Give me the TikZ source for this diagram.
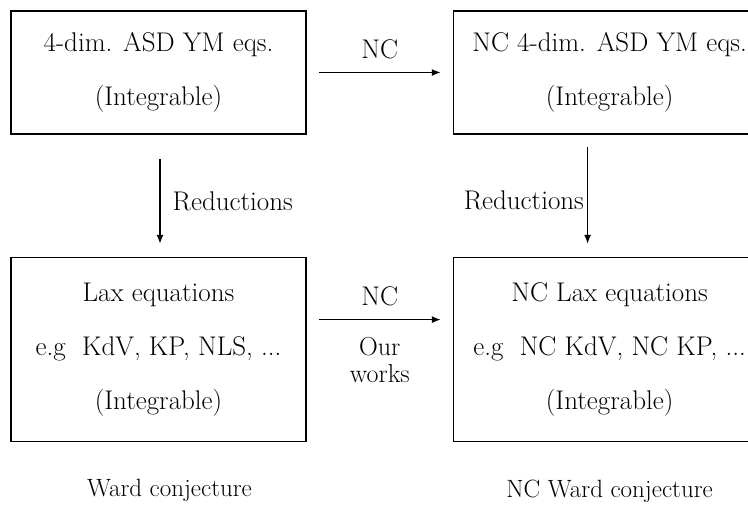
\documentclass[tikz,border=0pt]{standalone}
\usepackage{tikz}
\usetikzlibrary{arrows.meta, positioning}

\begin{document}
\begin{tikzpicture}[x=1pt, y=-1pt,
        eqbox/.style={rectangle, draw, line width=1.6pt, minimum width=295pt, minimum height=123pt, align=center, font=\fontsize{27}{54}\selectfont},
        ncbox/.style={eqbox, minimum width=312pt},
        label/.style={inner sep=0pt, font=\fontsize{27}{31}\selectfont},
        line/.style={-{Latex[length=9pt, width=7pt]}, line width=1.4pt}
    ]
        \useasboundingbox (0,0) rectangle (748,505);

        % Commutative side
        \node[eqbox] (asd) at (158.5,72.5) {4-dim. ASD YM eqs.\\(Integrable)};
        \node[eqbox, minimum height=184pt, below=122pt of asd] (lax) {Lax equations\\e.g\ \ KdV, KP, NLS, ...\\(Integrable)};
        \node[label, font=\fontsize{25}{29}\selectfont, below=37pt of lax, xshift=11pt] (ward) {Ward conjecture};

        % Noncommutative side
        \node[ncbox, right=146pt of asd] (ncasd) {NC 4-dim. ASD YM eqs.\\(Integrable)};
        \node[ncbox, minimum height=184pt, below=122pt of ncasd] (nclax) {NC Lax equations\\e.g\ \ NC KdV, NC KP, ...\\(Integrable)};
        \node[label, font=\fontsize{25}{29}\selectfont, below=37pt of nclax] (ncward) {NC Ward conjecture};

        % Arrows
        \draw[line] ([xshift=12pt]asd.east) -- ([xshift=-12pt]ncasd.west)
            node[label, midway, above=13pt] (nc1) {NC};
        \draw[line] ([xshift=12pt, yshift=30pt]lax.east) -- ([xshift=-12pt, yshift=30pt]nclax.west)
            node[label, midway, above=13pt] (nc2) {NC}
            node[label, midway, below=17pt, align=center, font=\fontsize{26}{27}\selectfont] (ours) {Our\\works};
        \draw[line] ([xshift=1.5pt, yshift=-24pt]asd.south) -- ([xshift=1.5pt, yshift=13pt]lax.north)
            node[label, midway, right=12pt] (red1) {Reductions};
        \draw[line] ([xshift=-22pt, yshift=-12pt]ncasd.south) -- ([xshift=-22pt, yshift=13pt]nclax.north)
            node[label, pos=0.55, left=3pt] (red2) {Reductions};
    \end{tikzpicture}
\end{document}
